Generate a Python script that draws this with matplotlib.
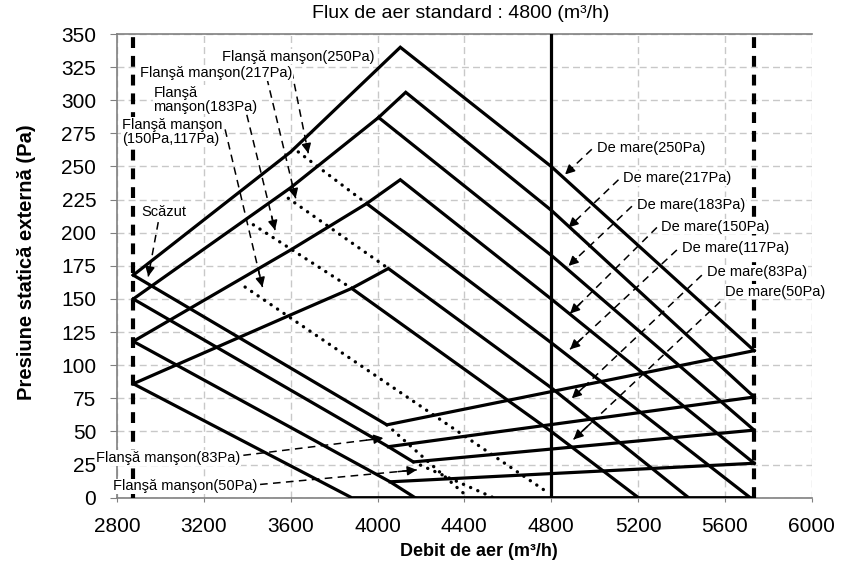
import matplotlib
matplotlib.use('Agg')
import matplotlib.pyplot as plt

plt.rcParams['font.family'] = ['Liberation Sans', 'DejaVu Sans']

# --- operating range ---
flow_min = 2875
flow_max = 5735
flow_std = 4800

# --- high speed curves (De mare), one per ESP setting ---
high_250_x = [2875, 3600, 4105, 4800, 5735]
high_250_y = [168, 261, 340, 250, 111]
high_217_x = [2875, 3600, 4005, 4130, 4800, 5735]
high_217_y = [150, 234, 287, 306, 217, 76]
high_183_x = [4005, 4800, 5735]
high_183_y = [287, 183, 51]
high_150_x = [2875, 3600, 3950, 4105, 4800, 5735]
high_150_y = [118, 187, 222, 240, 150, 26]
high_117_x = [3950, 4800, 5717]
high_117_y = [222, 117, 0]
high_83_x = [2875, 3600, 3881, 4050, 4800, 5433]
high_83_y = [86, 138, 158, 173, 83, 0]
high_50_x = [3881, 4800, 5202]
high_50_y = [158, 50, 0]

# --- low speed curves (Scazut) ---
low_1_x = [2875, 4043, 5735]
low_1_y = [168, 55, 111]
low_2_x = [2875, 4050, 4165, 5735]
low_2_y = [150, 38.5, 27, 51]
low_2b_x = [4050, 5735]
low_2b_y = [38.5, 76]
low_3_x = [2875, 4058, 4173]
low_3_y = [118, 12, 0]
low_3b_x = [4058, 5735]
low_3b_y = [12, 26]
low_4_x = [2875, 3881, 5717]
low_4_y = [86, 0, 0]

# --- spigot flange (Flansa manson) dotted lines ---
dot_1_x, dot_1_y = [3635, 3950], [261, 222]
dot_2_x, dot_2_y = [3589, 4050], [226, 173]
dot_3_x, dot_3_y = [3428, 3881], [206, 158]
dot_4_x, dot_4_y = [3390, 4779], [159, 4.5]
dot_5_x, dot_5_y = [4043, 4419], [55, 0]
dot_6_x, dot_6_y = [4165, 4534], [27, 0]

solid_curves = [
    (high_250_x, high_250_y), (high_217_x, high_217_y), (high_183_x, high_183_y),
    (high_150_x, high_150_y), (high_117_x, high_117_y), (high_83_x, high_83_y),
    (high_50_x, high_50_y), (low_1_x, low_1_y), (low_2_x, low_2_y),
    (low_2b_x, low_2b_y), (low_3_x, low_3_y), (low_3b_x, low_3b_y),
    (low_4_x, low_4_y),
]
dotted_curves = [
    (dot_1_x, dot_1_y), (dot_2_x, dot_2_y), (dot_3_x, dot_3_y),
    (dot_4_x, dot_4_y), (dot_5_x, dot_5_y), (dot_6_x, dot_6_y),
]

# --- labels: text, text anchor (x, y), arrow start, arrow tip ---
labels = [
    ("Flanşă manşon(250Pa)", (3282, 333), (3605, 322), (3681, 260)),
    ("Flanşă manşon(217Pa)", (2906, 320.5), (3490, 317), (3623, 226)),
    ("Flanşă\nmanşon(183Pa)", (2967, 300.5), (3398, 289), (3528, 202)),
    ("Flanşă manşon\n(150Pa,117Pa)", (2822, 276), (3298, 278), (3470, 159)),
    ("Scăzut", (2914, 216), (2990, 208), (2944, 167)),
    ("De mare(250Pa)", (5010, 264), (4987, 263), (4864, 244)),
    ("De mare(217Pa)", (5133, 241), (5110, 240), (4880, 204)),
    ("De mare(183Pa)", (5195, 221), (5172, 220), (4880, 175)),
    ("De mare(150Pa)", (5307, 204.5), (5287, 204), (4887, 139)),
    ("De mare(117Pa)", (5402, 188.5), (5379, 187), (4887, 112)),
    ("De mare(83Pa)", (5517, 170), (5494, 168), (4895, 75)),
    ("De mare(50Pa)", (5602, 155.5), (5579, 148), (4903, 44)),
    ("Flanşă manşon(83Pa)", (2703, 30), (3382, 32), (4027, 45)),
    ("Flanşă manşon(50Pa)", (2783, 8.5), (3459, 10), (4181, 21)),
]

x_ticks = list(range(2800, 6001, 400))
y_ticks = list(range(0, 351, 25))

fig = plt.figure(figsize=(8.48, 5.72), dpi=100)
ax = fig.add_axes([117 / 848, 74.3 / 572, 694.7 / 848, 463.7 / 572])

ax.set_xlim(2800, 6000)
ax.set_ylim(0, 350)
ax.set_xticks(x_ticks)
ax.set_yticks(y_ticks)
ax.tick_params(axis='both', labelsize=15, colors='#808080', labelcolor='black')
ax.tick_params(axis='x', length=3, pad=11)
ax.tick_params(axis='y', length=5, pad=10)

ax.grid(True, color='#c8c8c8', linestyle=(0, (5, 3)), linewidth=1)
ax.set_axisbelow(True)
for side in ['left', 'bottom', 'top']:
    ax.spines[side].set_color('#808080')
    ax.spines[side].set_linewidth(1.2)
ax.spines['right'].set_visible(False)

for xs, ys in solid_curves:
    ax.plot(xs, ys, color='black', linewidth=2.3, solid_joinstyle='miter', zorder=3)

for xs, ys in dotted_curves:
    ax.plot(xs, ys, color='black', linewidth=2.4, linestyle=(0, (0.05, 2.3)),
            dash_capstyle='round', zorder=3)

# rated airflow line and range limits
ax.axvline(flow_std, color='black', linewidth=2.3, zorder=3)
for fx in [flow_min, flow_max]:
    ax.axvline(fx, color='black', linewidth=3, linestyle=(0, (2.6, 1.9)), zorder=3)

for text, pos, start, tip in labels:
    ax.text(pos[0], pos[1], text, fontsize=10.5, ha='left', va='center',
            linespacing=1.0, clip_on=False, zorder=6,
            bbox=dict(facecolor='white', edgecolor='none', pad=0.5))
    ax.plot([start[0], tip[0]], [start[1], tip[1]], color='black',
            linewidth=1.1, linestyle=(0, (5, 3.5)), zorder=5)
    back = (tip[0] - 0.12 * (tip[0] - start[0]), tip[1] - 0.12 * (tip[1] - start[1]))
    ax.annotate('', xy=tip, xytext=back,
                arrowprops=dict(arrowstyle='-|>', color='black', lw=1.1,
                                mutation_scale=14, shrinkA=0, shrinkB=0), zorder=5)

fig.text(461 / 848, 1 - 13 / 572, "Flux de aer standard : 4800 (m³/h)",
         ha='center', va='center', fontsize=14)
fig.text(479 / 848, 1 - 552 / 572, "Debit de aer (m³/h)",
         ha='center', va='center', fontsize=13, fontweight='bold')
fig.text(27 / 848, 1 - 262 / 572, "Presiune statică externă (Pa)",
         ha='center', va='center', fontsize=14.5, fontweight='bold', rotation=90)

plt.savefig("out.png", dpi=100)
